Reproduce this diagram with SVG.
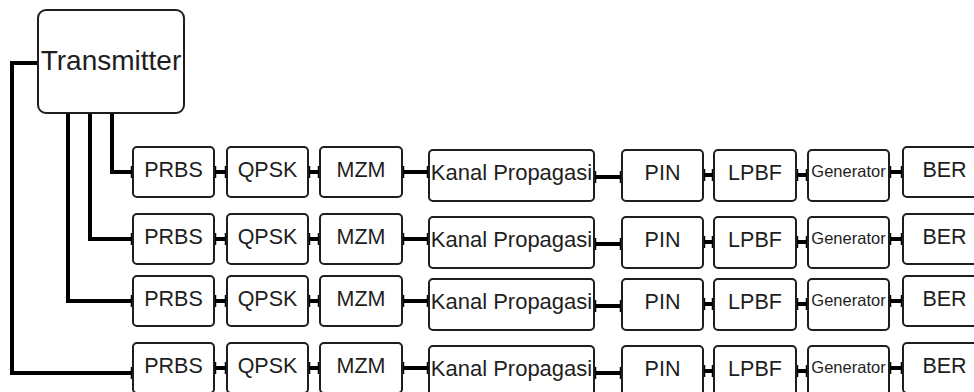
<svg xmlns="http://www.w3.org/2000/svg" width="974" height="392" viewBox="0 0 974 392">
<style>
.box{fill:#fff;stroke:#1e1e1e;stroke-width:2}
.t{font-family:"Liberation Sans",Arial,sans-serif;font-size:21.5px;fill:#1e1e1e;text-anchor:middle}
.k{font-size:22px}
.g{font-size:16.5px}
.c{fill:none;stroke:#000;stroke-width:4;marker-end:url(#tick)}
.cc{marker-start:url(#tick)}
</style>
<defs>
<marker id="tick" markerUnits="userSpaceOnUse" orient="auto" markerWidth="6" markerHeight="16" refX="0" refY="8" viewBox="-3 0 6 16" overflow="visible">
<path d="M0,2 V14" stroke="#000" stroke-width="2.5"/>
</marker>
</defs>
<rect width="974" height="392" fill="#fff"/>
<g id="connectors">
<path class="c" d="M38 63 H12 V373 H132"/>
<path class="c" d="M112 113 V172 H132"/>
<path class="c" d="M90 113 V239 H132"/>
<path class="c" d="M68 113 V301 H132"/>
<g id="row1-conn">
<path class="c cc" d="M215 172 H226"/><path class="c cc" d="M309 172 H319"/><path class="c cc" d="M403 172 H428"/><path class="c cc" d="M595 177 H621"/><path class="c cc" d="M704 175 H713"/><path class="c cc" d="M797 175 H807"/><path class="c cc" d="M890 172 H902"/>
</g>
<g id="row2-conn">
<path class="c cc" d="M215 239 H226"/><path class="c cc" d="M309 239 H319"/><path class="c cc" d="M403 239 H428"/><path class="c cc" d="M595 244 H621"/><path class="c cc" d="M704 242 H713"/><path class="c cc" d="M797 242 H807"/><path class="c cc" d="M890 239 H902"/>
</g>
<g id="row3-conn">
<path class="c cc" d="M215 301 H226"/><path class="c cc" d="M309 301 H319"/><path class="c cc" d="M403 301 H428"/><path class="c cc" d="M595 306 H621"/><path class="c cc" d="M704 304 H713"/><path class="c cc" d="M797 304 H807"/><path class="c cc" d="M890 301 H902"/>
</g>
<g id="row4-conn">
<path class="c cc" d="M215 368 H226"/><path class="c cc" d="M309 368 H319"/><path class="c cc" d="M403 368 H428"/><path class="c cc" d="M595 373 H621"/><path class="c cc" d="M704 371 H713"/><path class="c cc" d="M797 371 H807"/><path class="c cc" d="M890 368 H902"/>
</g>
</g>
<g id="transmitter"><rect class="box" x="38" y="10" width="146" height="103" rx="8"/><text class="t" x="111" y="70" style="font-size:28px">Transmitter</text></g>
<g id="row1">
<g id="prbs1"><rect class="box" x="133" y="147" width="81" height="50" rx="4"/><text class="t" x="173.5" y="177">PRBS</text></g>
<g id="qpsk1"><rect class="box" x="227" y="147" width="81" height="50" rx="4"/><text class="t" x="267.5" y="177">QPSK</text></g>
<g id="mzm1"><rect class="box" x="320" y="147" width="82" height="50" rx="4"/><text class="t" x="361" y="177">MZM</text></g>
<g id="kanal1"><rect class="box" x="429" y="150" width="165" height="51" rx="4"/><text class="t k" x="511.5" y="180">Kanal Propagasi</text></g>
<g id="pin1"><rect class="box" x="622" y="150" width="81" height="51" rx="4"/><text class="t" x="662.5" y="180">PIN</text></g>
<g id="lpbf1"><rect class="box" x="714" y="150" width="82" height="51" rx="4"/><text class="t" x="755" y="180">LPBF</text></g>
<g id="gen1"><rect class="box" x="808" y="150" width="81" height="51" rx="4"/><text class="t g" x="848.5" y="177">Generator</text></g>
<g id="ber1"><rect class="box" x="903" y="147" width="83" height="50" rx="4"/><text class="t" x="944.5" y="177">BER</text></g>
</g>
<g id="row2">
<g id="prbs2"><rect class="box" x="133" y="214" width="81" height="50" rx="4"/><text class="t" x="173.5" y="244">PRBS</text></g>
<g id="qpsk2"><rect class="box" x="227" y="214" width="81" height="50" rx="4"/><text class="t" x="267.5" y="244">QPSK</text></g>
<g id="mzm2"><rect class="box" x="320" y="214" width="82" height="50" rx="4"/><text class="t" x="361" y="244">MZM</text></g>
<g id="kanal2"><rect class="box" x="429" y="217" width="165" height="51" rx="4"/><text class="t k" x="511.5" y="247">Kanal Propagasi</text></g>
<g id="pin2"><rect class="box" x="622" y="217" width="81" height="51" rx="4"/><text class="t" x="662.5" y="247">PIN</text></g>
<g id="lpbf2"><rect class="box" x="714" y="217" width="82" height="51" rx="4"/><text class="t" x="755" y="247">LPBF</text></g>
<g id="gen2"><rect class="box" x="808" y="217" width="81" height="51" rx="4"/><text class="t g" x="848.5" y="244">Generator</text></g>
<g id="ber2"><rect class="box" x="903" y="214" width="83" height="50" rx="4"/><text class="t" x="944.5" y="244">BER</text></g>
</g>
<g id="row3">
<g id="prbs3"><rect class="box" x="133" y="276" width="81" height="50" rx="4"/><text class="t" x="173.5" y="306">PRBS</text></g>
<g id="qpsk3"><rect class="box" x="227" y="276" width="81" height="50" rx="4"/><text class="t" x="267.5" y="306">QPSK</text></g>
<g id="mzm3"><rect class="box" x="320" y="276" width="82" height="50" rx="4"/><text class="t" x="361" y="306">MZM</text></g>
<g id="kanal3"><rect class="box" x="429" y="279" width="165" height="51" rx="4"/><text class="t k" x="511.5" y="309">Kanal Propagasi</text></g>
<g id="pin3"><rect class="box" x="622" y="279" width="81" height="51" rx="4"/><text class="t" x="662.5" y="309">PIN</text></g>
<g id="lpbf3"><rect class="box" x="714" y="279" width="82" height="51" rx="4"/><text class="t" x="755" y="309">LPBF</text></g>
<g id="gen3"><rect class="box" x="808" y="279" width="81" height="51" rx="4"/><text class="t g" x="848.5" y="306">Generator</text></g>
<g id="ber3"><rect class="box" x="903" y="276" width="83" height="50" rx="4"/><text class="t" x="944.5" y="306">BER</text></g>
</g>
<g id="row4">
<g id="prbs4"><rect class="box" x="133" y="343" width="81" height="50" rx="4"/><text class="t" x="173.5" y="373">PRBS</text></g>
<g id="qpsk4"><rect class="box" x="227" y="343" width="81" height="50" rx="4"/><text class="t" x="267.5" y="373">QPSK</text></g>
<g id="mzm4"><rect class="box" x="320" y="343" width="82" height="50" rx="4"/><text class="t" x="361" y="373">MZM</text></g>
<g id="kanal4"><rect class="box" x="429" y="346" width="165" height="51" rx="4"/><text class="t k" x="511.5" y="376">Kanal Propagasi</text></g>
<g id="pin4"><rect class="box" x="622" y="346" width="81" height="51" rx="4"/><text class="t" x="662.5" y="376">PIN</text></g>
<g id="lpbf4"><rect class="box" x="714" y="346" width="82" height="51" rx="4"/><text class="t" x="755" y="376">LPBF</text></g>
<g id="gen4"><rect class="box" x="808" y="346" width="81" height="51" rx="4"/><text class="t g" x="848.5" y="373">Generator</text></g>
<g id="ber4"><rect class="box" x="903" y="343" width="83" height="50" rx="4"/><text class="t" x="944.5" y="373">BER</text></g>
</g>
</svg>
